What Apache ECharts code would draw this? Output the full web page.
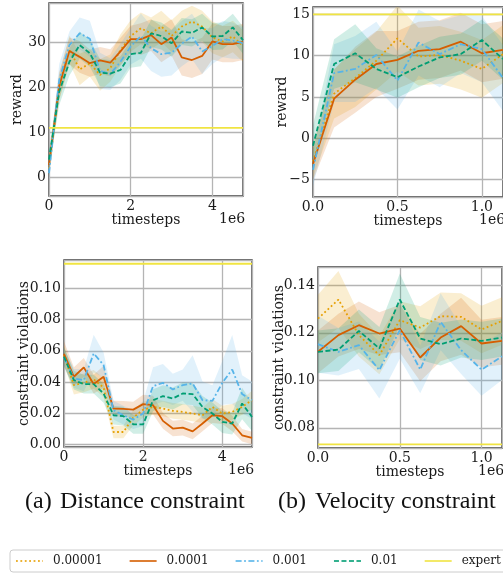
<!DOCTYPE html>
<html>
<head>
<meta charset="utf-8">
<script src="https://cdn.jsdelivr.net/npm/echarts@6/dist/echarts.min.js"></script>
<style>
  html, body { margin: 0; padding: 0; overflow: hidden; background: #fff; }
  #chart { width: 520px; height: 573px; }
</style>
</head>
<body>
<div id="chart"></div>
<script>
// Learning-rate settings compared in every panel
const lrNames = ['0.00001', '0.0001', '0.001', '0.01'];

// Timesteps (in units of 1e6)
const stepsDist = [0, 0.25, 0.5, 0.75, 1, 1.25, 1.5, 1.75, 2, 2.25, 2.5, 2.75, 3, 3.25, 3.5, 3.75, 4, 4.25, 4.5, 4.75];
const stepsVel = [0, 0.125, 0.25, 0.375, 0.5, 0.625, 0.75, 0.875, 1, 1.125];

// Distance constraint: reward (mean and spread)
const distRew_1e5 = [2, 20, 28.4, 23.9, 25.3, 22.7, 24.2, 28.2, 31.3, 33, 31.9, 33.4, 31.3, 33.4, 34.5, 33.4, 31, 30.1, 31.2, 29.1];
const distRew_1e4 = [2.8, 20.3, 28, 26.7, 25.3, 25.9, 25.4, 27.9, 30.6, 30.6, 31.5, 29.5, 31, 26.6, 26, 26.9, 30.1, 29.5, 29.5, 30];
const distRew_1e3 = [1, 21.6, 29.3, 31.9, 30.7, 23.6, 22.9, 25.6, 29, 31.3, 28.6, 27.3, 27.6, 29.6, 31.2, 27.9, 29.1, 30.6, 30.3, 29.7];
const distRew_1e2 = [4, 19, 25.6, 29.3, 27.5, 23.2, 23, 23.8, 27.3, 27.6, 31.9, 31.3, 29.7, 32.3, 32, 33.2, 31.2, 31.3, 33.2, 30.4];
const distRewSd_1e5 = [1.5, 3, 3, 3.5, 3, 3.5, 3, 3.5, 3.5, 3.5, 3.5, 3.5, 3.5, 3.5, 3.5, 3.5, 3.5, 3.5, 3.5, 3.5];
const distRewSd_1e4 = [1.5, 3, 3, 3.5, 3, 3, 3, 3, 3, 3.5, 3.5, 4, 4, 4, 4, 4, 4, 4, 4, 4];
const distRewSd_1e3 = [1.5, 3.5, 3, 3.5, 4, 4, 3.5, 4, 4, 5, 5, 5, 5, 5, 5, 5, 4, 4, 4, 3.5];
const distRewSd_1e2 = [2, 3, 3, 3, 3, 3, 3, 3, 3, 3, 3, 3, 3, 3, 3, 3, 3, 3, 3, 3];

// Velocity constraint: reward
const velRew_1e5 = [-2.8, 5.4, 7.3, 9.4, 12.1, 9.9, 10.1, 9.4, 8.4, 10.2];
const velRew_1e4 = [-3.1, 4.8, 7.1, 9.0, 9.5, 10.6, 10.8, 11.7, 10.3, 10.7];
const velRew_1e3 = [-3.8, 7.9, 8.4, 10.1, 7.0, 11.6, 10.2, 11.4, 10.8, 7.3];
const velRew_1e2 = [-0.9, 9.0, 10.3, 8.4, 7.4, 8.7, 9.8, 10.2, 11.9, 9.6];
const velRewSd_1e5 = [2, 3, 3.5, 3.5, 4, 3.5, 3.5, 3.5, 3.5, 3.5];
const velRewSd_1e4 = [2, 3.5, 4, 4, 3.5, 3.5, 3.5, 3.5, 3.5, 3.5];
const velRewSd_1e3 = [2, 3.5, 4, 4, 3.5, 4, 4, 3.5, 4, 4];
const velRewSd_1e2 = [2.5, 3, 3.5, 2.5, 2.5, 2.5, 2.5, 2.5, 2.5, 2.5];

// Distance constraint: constraint violations
const distViol_1e5 = [0.0573, 0.038, 0.0395, 0.0417, 0.0365, 0.0081, 0.0081, 0.0173, 0.0224, 0.0241, 0.0231, 0.0216, 0.0209, 0.0199, 0.0188, 0.0241, 0.0199, 0.0209, 0.0241, 0.0284];
const distViol_1e4 = [0.058, 0.0434, 0.0494, 0.0387, 0.0434, 0.0231, 0.0229, 0.0224, 0.0259, 0.0252, 0.0152, 0.0103, 0.0109, 0.0085, 0.0135, 0.0188, 0.0182, 0.0135, 0.006, 0.0043];
const distViol_1e3 = [0.0558, 0.0423, 0.0412, 0.0583, 0.0509, 0.022, 0.0188, 0.016, 0.0199, 0.0374, 0.0395, 0.0353, 0.038, 0.0391, 0.0284, 0.028, 0.0395, 0.048, 0.0323, 0.0284];
const distViol_1e2 = [0.0562, 0.0412, 0.0387, 0.0387, 0.0327, 0.0188, 0.0182, 0.013, 0.013, 0.0284, 0.031, 0.0295, 0.0327, 0.0323, 0.0241, 0.0199, 0.0145, 0.0135, 0.0263, 0.0177];
const distViolSd_1e5 = [0.006, 0.006, 0.006, 0.006, 0.006, 0.004, 0.004, 0.005, 0.005, 0.005, 0.005, 0.005, 0.005, 0.005, 0.005, 0.005, 0.005, 0.005, 0.005, 0.006];
const distViolSd_1e4 = [0.008, 0.006, 0.006, 0.006, 0.007, 0.005, 0.005, 0.005, 0.006, 0.006, 0.005, 0.005, 0.005, 0.005, 0.005, 0.005, 0.005, 0.005, 0.004, 0.004];
const distViolSd_1e3 = [0.006, 0.006, 0.007, 0.012, 0.008, 0.006, 0.006, 0.006, 0.008, 0.012, 0.012, 0.01, 0.01, 0.018, 0.012, 0.01, 0.014, 0.022, 0.012, 0.012];
const distViolSd_1e2 = [0.006, 0.006, 0.006, 0.006, 0.006, 0.006, 0.006, 0.006, 0.006, 0.007, 0.007, 0.007, 0.007, 0.007, 0.007, 0.007, 0.007, 0.007, 0.01, 0.009];

// Velocity constraint: constraint violations
const velViol_1e5 = [0.126, 0.134, 0.119, 0.1106, 0.1253, 0.1222, 0.127, 0.1267, 0.1214, 0.125];
const velViol_1e4 = [0.112, 0.119, 0.1232, 0.1197, 0.1218, 0.1096, 0.118, 0.1228, 0.1155, 0.1166];
const velViol_1e3 = [0.1152, 0.112, 0.1148, 0.1043, 0.1211, 0.1045, 0.1246, 0.1127, 0.1045, 0.1101];
const velViol_1e2 = [0.112, 0.1129, 0.1208, 0.1134, 0.134, 0.1176, 0.1152, 0.1176, 0.1166, 0.118];
const velViolSd_1e5 = [0.01, 0.012, 0.009, 0.008, 0.008, 0.009, 0.01, 0.01, 0.01, 0.01];
const velViolSd_1e4 = [0.009, 0.009, 0.01, 0.009, 0.01, 0.01, 0.01, 0.012, 0.01, 0.01];
const velViolSd_1e3 = [0.012, 0.01, 0.01, 0.012, 0.012, 0.01, 0.012, 0.01, 0.011, 0.01];
const velViolSd_1e2 = [0.009, 0.009, 0.009, 0.009, 0.011, 0.009, 0.009, 0.008, 0.008, 0.008];

// Expert reference levels
const expertDistRew = 11;
const expertVelRew = 15;
const expertDistViol = 0.1156;
const expertVelViol = 0.073;

// Styling
const colors = ['#E69F00', '#D55E00', '#56B4E9', '#009E73'];
const dashes = [[1.8, 2.6], 'solid', [6, 2.5, 1.8, 2.5], [5, 2.5]];
const expertColor = '#F0E442';
const serif = 'DejaVu Serif';
const textColor = '#1a1a1a';

const panels = [
  { steps: stepsDist, means: [distRew_1e5, distRew_1e4, distRew_1e3, distRew_1e2],
    sds: [distRewSd_1e5, distRewSd_1e4, distRewSd_1e3, distRewSd_1e2], expert: expertDistRew,
    grid: { left: 49, top: 3, width: 194, height: 193 },
    xMax: 4.75, xInt: 2, xDec: 0, yMin: -4.05, yMax: 38.6, ySplit: 5, yDec: 0,
    yName: 'reward', yGap: 25 },
  { steps: stepsVel, means: [velRew_1e5, velRew_1e4, velRew_1e3, velRew_1e2],
    sds: [velRewSd_1e5, velRewSd_1e4, velRewSd_1e3, velRewSd_1e2], expert: expertVelRew,
    grid: { left: 313, top: 7, width: 190, height: 190 },
    xMax: 1.125, xInt: 0.5, xDec: 1, yMin: -7.1, yMax: 15.9, ySplit: 5, yDec: 0,
    yName: 'reward', yGap: 24 },
  { steps: stepsDist, means: [distViol_1e5, distViol_1e4, distViol_1e3, distViol_1e2],
    sds: [distViolSd_1e5, distViolSd_1e4, distViolSd_1e3, distViolSd_1e2], expert: expertDistViol,
    grid: { left: 64, top: 260, width: 188, height: 187 },
    xMax: 4.75, xInt: 2, xDec: 0, yMin: -0.0015, yMax: 0.118, ySplit: 5, yDec: 2,
    yName: 'constraint violations', yGap: 33 },
  { steps: stepsVel, means: [velViol_1e5, velViol_1e4, velViol_1e3, velViol_1e2],
    sds: [velViolSd_1e5, velViolSd_1e4, velViolSd_1e3, velViolSd_1e2], expert: expertVelViol,
    grid: { left: 318, top: 267, width: 184, height: 181 },
    xMax: 1.125, xInt: 0.5, xDec: 1, yMin: 0.0715, yMax: 0.1477, ySplit: 4, yDec: 2,
    yName: 'constraint violations', yGap: 32 }
];

const fmtNum = (v, dec) => {
  const s = Number(v).toFixed(dec);
  return s.charAt(0) === '-' ? '\u2212' + s.slice(1) : s;
};

// Shaded band (mean +/- spread) drawn as one polygon in axis coordinates
function bandSeries(pi, steps, mean, sd, color) {
  const pts = steps.map((x, i) => [x, mean[i] - sd[i], mean[i] + sd[i]]);
  return {
    type: 'custom', name: 'band', xAxisIndex: pi, yAxisIndex: pi, silent: true, clip: true, z: 1,
    data: pts,
    encode: { x: 0, y: [1, 2] },
    renderItem: (params, api) => {
      if (params.dataIndex !== 0) return null;
      const upper = pts.map(p => api.coord([p[0], p[2]]));
      const lower = pts.map(p => api.coord([p[0], p[1]])).reverse();
      return {
        type: 'polygon',
        shape: { points: upper.concat(lower) },
        style: { fill: color, opacity: 0.18 }
      };
    }
  };
}

const grids = [], xAxes = [], yAxes = [], series = [], graphics = [];

panels.forEach((p, pi) => {
  grids.push(Object.assign({ show: true, borderColor: '#2b2b2b', borderWidth: 1.3, backgroundColor: 'transparent' }, p.grid));
  xAxes.push({
    type: 'value', gridIndex: pi, min: 0, max: p.xMax, interval: p.xInt,
    name: 'timesteps', nameLocation: 'middle', nameGap: 17, nameMoveOverlap: false,
    nameTextStyle: { fontFamily: serif, fontSize: 14, color: textColor },
    axisLine: { show: false }, axisTick: { show: false },
    axisLabel: { fontFamily: serif, fontSize: 14, color: textColor, margin: 3, showMaxLabel: false,
      formatter: v => fmtNum(v, p.xDec) },
    splitLine: { show: true, lineStyle: { color: '#b4b4b4', width: 1.3 } }
  });
  yAxes.push({
    type: 'value', gridIndex: pi, min: p.yMin, max: p.yMax, splitNumber: p.ySplit,
    name: p.yName, nameLocation: 'middle', nameGap: p.yGap, nameRotate: 90, nameMoveOverlap: false,
    nameTextStyle: { fontFamily: serif, fontSize: 14, color: textColor },
    axisLine: { show: false }, axisTick: { show: false },
    axisLabel: { fontFamily: serif, fontSize: 14, color: textColor, margin: 3,
      showMinLabel: false, showMaxLabel: false, formatter: v => fmtNum(v, p.yDec) },
    splitLine: { show: true, lineStyle: { color: '#b4b4b4', width: 1.3 } }
  });

  p.means.forEach((m, si) => {
    series.push(bandSeries(pi, p.steps, m, p.sds[si], colors[si]));
  });

  // mean curves
  p.means.forEach((m, si) => {
    series.push({
      type: 'line', name: lrNames[si], xAxisIndex: pi, yAxisIndex: pi,
      data: m.map((v, i) => [p.steps[i], v]), symbol: 'none', showSymbol: false, color: colors[si],
      lineStyle: { color: colors[si], width: 1.8, type: dashes[si] }, z: 3
    });
  });

  // expert level
  series.push({
    type: 'line', name: 'expert', xAxisIndex: pi, yAxisIndex: pi,
    data: [[0, p.expert], [p.xMax, p.expert]], symbol: 'none', showSymbol: false, color: expertColor,
    lineStyle: { color: expertColor, width: 1.8 }, z: 3
  });

  // axis offset text
  graphics.push({
    type: 'text', left: p.grid.left + p.grid.width - 24, top: p.grid.top + p.grid.height + 16,
    style: { text: '1e6', font: '14px "DejaVu Serif"', fill: textColor }
  });
});

// sub-figure captions
const captionFont = '24px "Liberation Serif"';
graphics.push({ type: 'text', left: 25, top: 490, style: { text: '(a)', font: captionFont, fill: '#111' } });
graphics.push({ type: 'text', left: 60, top: 490, style: { text: 'Distance constraint', font: captionFont, fill: '#111' } });
graphics.push({ type: 'text', left: 278, top: 490, style: { text: '(b)', font: captionFont, fill: '#111' } });
graphics.push({ type: 'text', left: 315, top: 490, style: { text: 'Velocity constraint', font: captionFont, fill: '#111' } });

const chart = echarts.init(document.getElementById('chart'), null, { renderer: 'canvas' });
chart.setOption({
  animation: false,
  backgroundColor: '#fff',
  grid: grids,
  xAxis: xAxes,
  yAxis: yAxes,
  series: series,
  graphic: graphics,
  legend: {
    data: lrNames.concat(['expert']),
    left: 10, top: 550, orient: 'horizontal',
    itemWidth: 27, itemHeight: 12, itemGap: 26,
    padding: [5, 8, 5, 5],
    borderColor: '#cccccc', borderWidth: 1, borderRadius: 3,
    backgroundColor: '#fff',
    itemStyle: { opacity: 0 },
    lineStyle: { opacity: 0.8 },
    textStyle: { fontFamily: serif, fontSize: 12, color: textColor, padding: [0, 0, 0, 5] }
  }
});
</script>
</body>
</html>
